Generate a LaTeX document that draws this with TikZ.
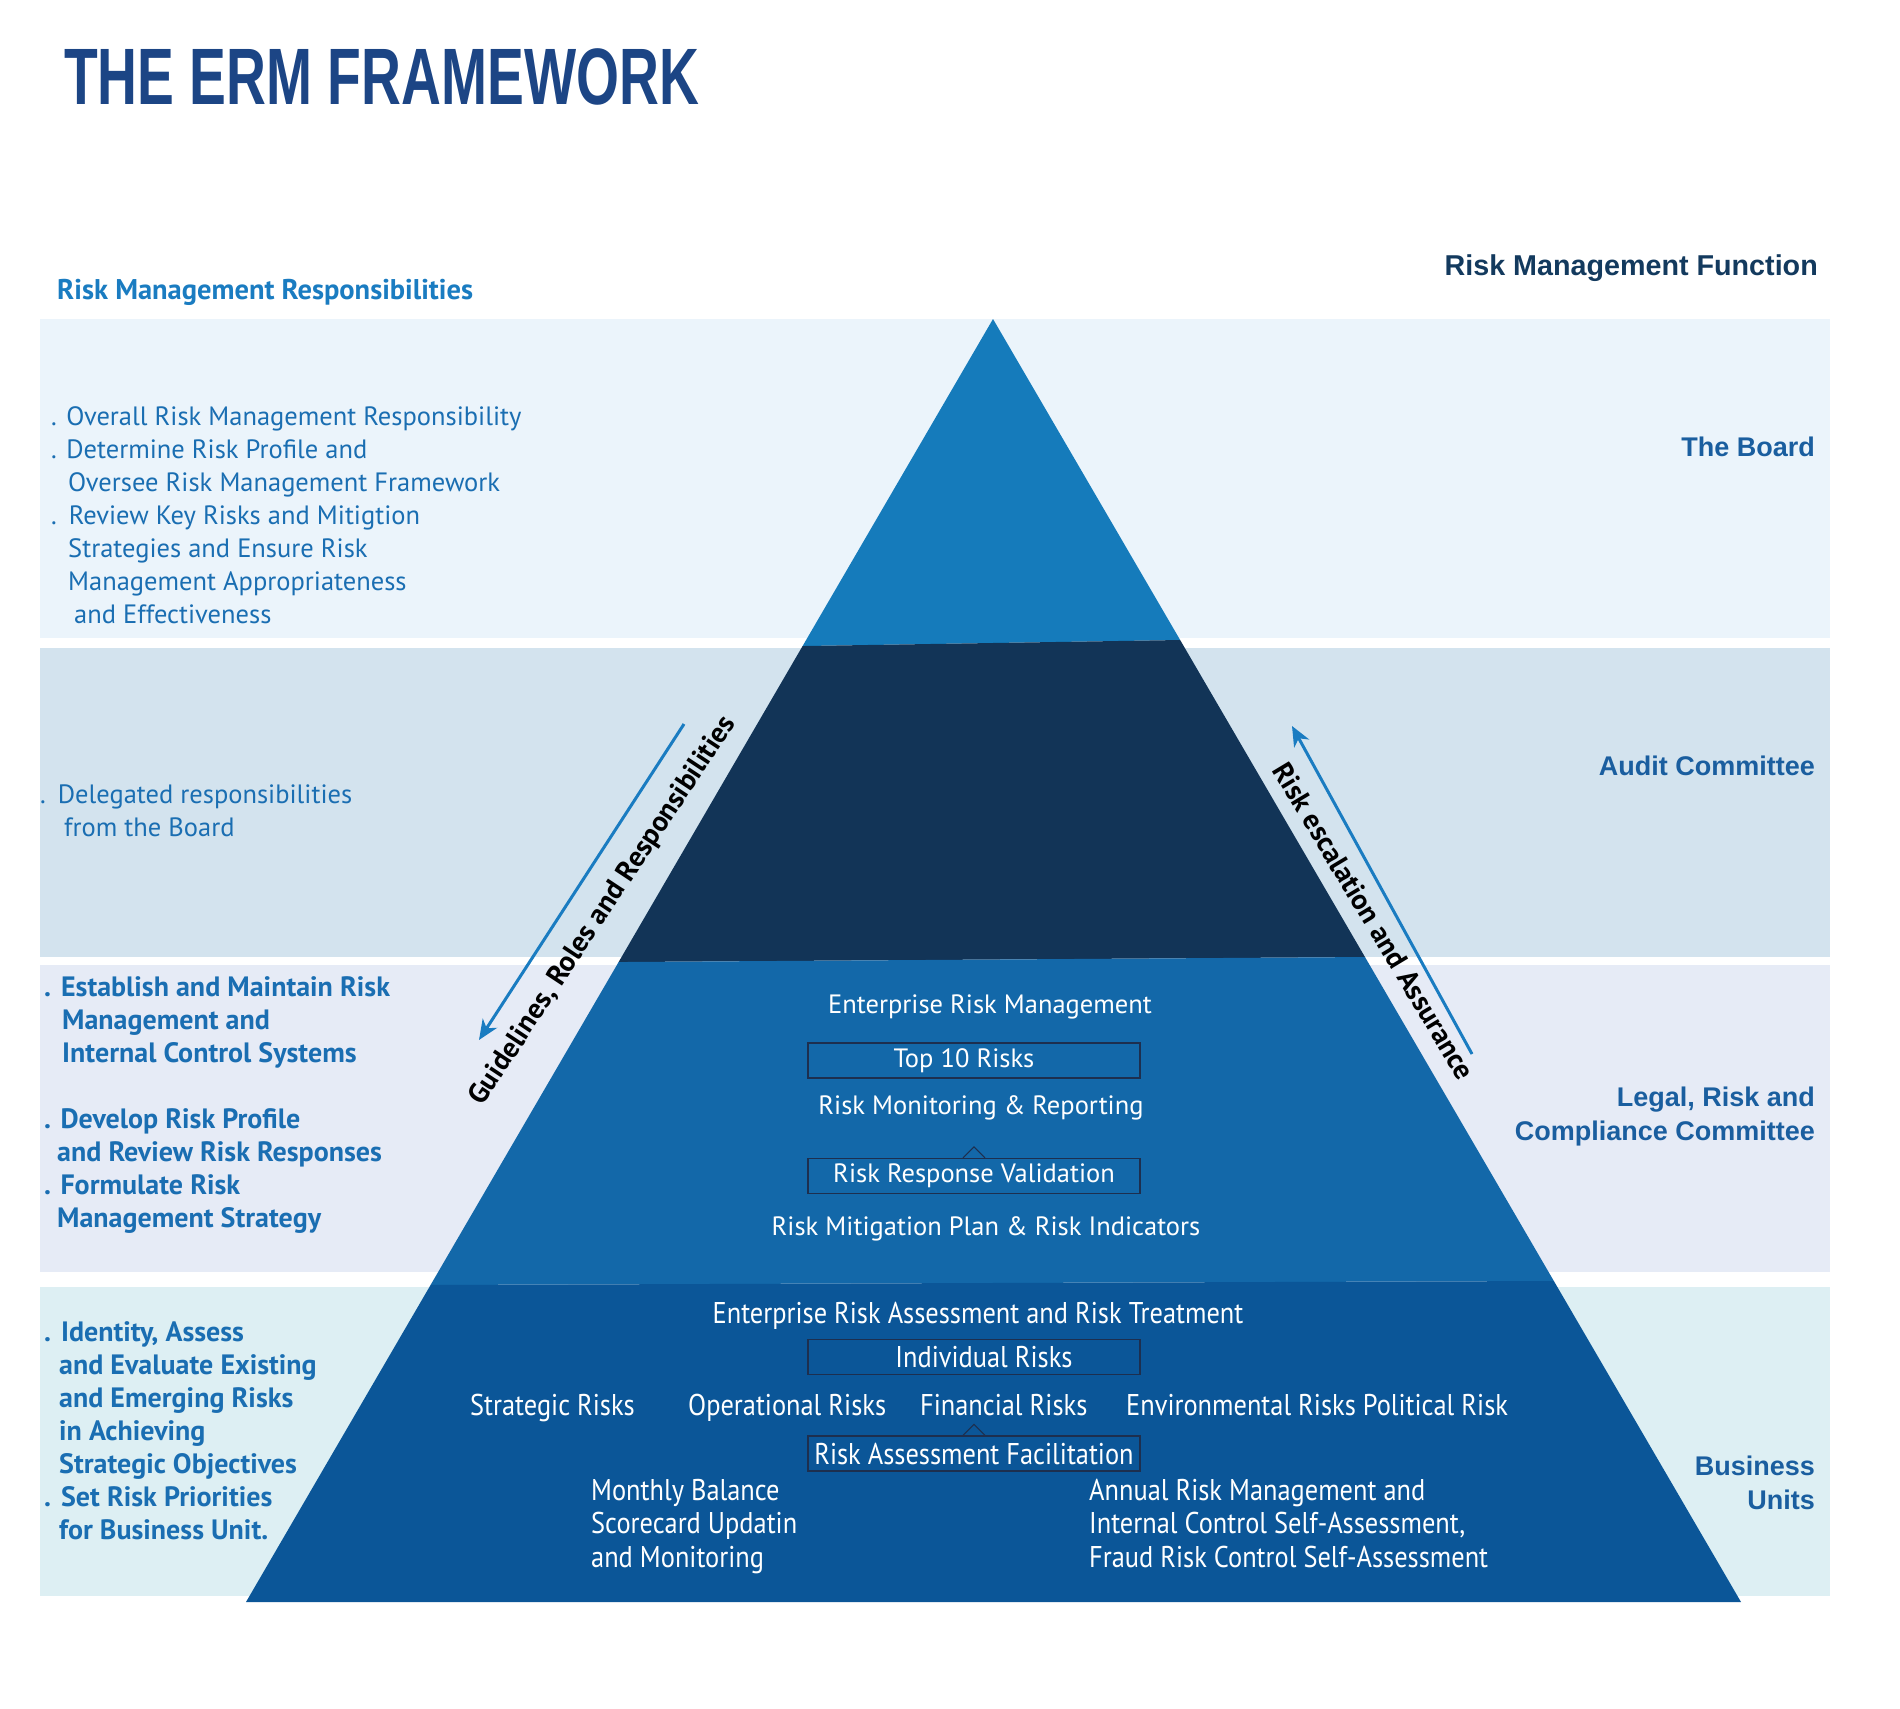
\documentclass[tikz,border=0pt]{standalone}
\usepackage{fontspec}
\setmainfont{PT Sans}
\newfontfamily\arialfont{Liberation Sans}
\newfontfamily\titlefont[FakeStretch=0.69]{Liberation Sans}
\newfontfamily\narrowfont[FakeStretch=0.88]{PT Sans}
\usetikzlibrary{calc,arrows.meta,positioning}

\definecolor{titleblue}{HTML}{1C4585}
\definecolor{headblue}{HTML}{1A7CC1}
\definecolor{funcnavy}{HTML}{133A5E}
\definecolor{textblue}{HTML}{1A6EB2}
\definecolor{labelblue}{HTML}{1A5E9F}
\definecolor{bandone}{HTML}{EBF4FB}
\definecolor{bandtwo}{HTML}{D3E3EE}
\definecolor{bandthree}{HTML}{E6EBF6}
\definecolor{bandfour}{HTML}{DDEFF3}
\definecolor{layerone}{HTML}{157BBB}
\definecolor{layertwo}{HTML}{123457}
\definecolor{layerthree}{HTML}{1368A9}
\definecolor{layerfour}{HTML}{0B5698}
\definecolor{boxline}{HTML}{1D2F4F}

\begin{document}
\begin{tikzpicture}[x=1pt,y=-1pt,
    resp/.style={anchor=base west,align=left,text=textblue,inner sep=0pt,font=\fontsize{26.5}{33}\selectfont},
    respbold/.style={resp,font=\fontsize{28}{33}\selectfont\bfseries},
    func/.style={anchor=east,align=right,text=labelblue,inner sep=0pt,font=\arialfont\bfseries\fontsize{27}{34}\selectfont},
    inner/.style={text=white,inner sep=0pt,font=\fontsize{26.5}{33}\selectfont},
    innernarrow/.style={text=white,inner sep=0pt,font=\narrowfont\fontsize{30}{33.5}\selectfont},
    riskbox/.style={draw=boxline,line width=1.2pt,minimum width=332pt,minimum height=35pt},
    caret/.style={boxline,line width=1pt},
    flow/.style={headblue,line width=3pt,-{Stealth[length=20pt,width=17pt,inset=6pt]}},
    flowtext/.style={inner sep=0pt,font=\fontsize{28.5}{30}\selectfont\bfseries}]
        % Page and bands
        \fill[white] (0,0) rectangle (1900,1708);
        \useasboundingbox (0,0) rectangle (1900,1708);
        \fill[bandone] (40,319) rectangle (1830,638);
        \fill[bandtwo] (40,648) rectangle (1830,957);
        \fill[bandthree] (40,965) rectangle (1830,1272);
        \fill[bandfour] (40,1287) rectangle (1830,1596);
        % Headings
        \node[anchor=west,inner sep=0pt,text=titleblue,font=\titlefont\bfseries\fontsize{80}{80}\selectfont] (title) at (64,77) {THE ERM FRAMEWORK};
        \node[anchor=base east,inner sep=0pt,text=funcnavy,font=\arialfont\bfseries\fontsize{28.7}{30}\selectfont] (function) at (1818,275) {Risk Management Function};
        \node[anchor=base west,inner sep=0pt,text=headblue,font=\fontsize{28.5}{30}\selectfont\bfseries] (duties) at (57,299.5) {Risk Management Responsibilities};
        % Pyramid layers
        \coordinate (apex) at (993,319);
        \coordinate (baseL) at (246,1602);
        \coordinate (baseR) at (1741,1602);
        \coordinate (l1) at ($(apex)!0.2549!(baseL)$);
        \coordinate (r1) at ($(apex)!0.2502!(baseR)$);
        \coordinate (l2) at ($(apex)!0.5012!(baseL)$);
        \coordinate (r2) at ($(apex)!0.4973!(baseR)$);
        \coordinate (l3) at ($(apex)!0.7529!(baseL)$);
        \coordinate (r3) at ($(apex)!0.7498!(baseR)$);
        \fill[layerone] (apex) -- (r1) -- (l1) -- cycle;
        \fill[layertwo] (l1) -- (r1) -- (r2) -- (l2) -- cycle;
        \fill[layerthree] (l2) -- (r2) -- (r3) -- (l3) -- cycle;
        \fill[layerfour] (l3) -- (r3) -- (baseR) -- (baseL) -- cycle;
        % Responsibilities on the left (anchored on the last line)
        \node[resp] (boardduty) at (51,623.5) {. Overall Risk Management Responsibility\\
            . Determine Risk Profile and\\
            \hspace*{17pt}Oversee Risk Management Framework\\
            .\hspace*{12pt}Review Key Risks and Mitigtion\\
            \hspace*{17pt}Strategies and Ensure Risk\\
            \hspace*{17pt}Management Appropriateness\\
            \hspace*{23pt}and Effectiveness};
        \node[resp] (auditduty) at (40,836.5) {.\hspace*{12pt}Delegated responsibilities\\
            \hspace*{24pt}from the Board};
        \node[respbold] (legalduty) at (44,1227.5) {.\hspace*{10pt}Establish and Maintain Risk\\
            \hspace*{18pt}Management and\\
            \hspace*{18pt}Internal Control Systems\\[33pt]
            . Develop Risk Profile\\
            \hspace*{13pt}and Review Risk Responses\\
            . Formulate Risk\\
            \hspace*{13pt}Management Strategy};
        \node[respbold] (unitduty) at (44,1539.5) {.\hspace*{10pt}Identity, Assess\\
            \hspace*{15pt}and Evaluate Existing\\
            \hspace*{15pt}and Emerging Risks\\
            \hspace*{15pt}in Achieving\\
            \hspace*{15pt}Strategic Objectives\\
            .\hspace*{10pt}Set Risk Priorities\\
            \hspace*{15pt}for Business Unit.};
        % Risk management function on the right
        \node[func] (board) at (1815,447) {The Board};
        \node[func] (audit) at (1815,766) {Audit Committee};
        \node[func] (legal) at (1815,1117) {Legal, Risk and\\Compliance Committee};
        \node[func] (units) at (1815,1482.5) {Business\\Units};
        % Flows along the pyramid
        \coordinate (gstart) at (684,724);
        \coordinate (gend) at (479,1040);
        \draw[flow] (gstart) -- (gend);
        \node[flowtext,rotate=56.5] (guide) at (603,911) {Guidelines, Roles and Responsibilities};
        \coordinate (estart) at (1472,1054);
        \coordinate (eend) at (1292,726);
        \draw[flow] (estart) -- (eend);
        \node[flowtext,rotate=-59] (escalate) at (1374,921) {Risk escalation and Assurance};
        % Enterprise risk management layer
        \node[inner] (erm) at (990,1007) {Enterprise Risk Management};
        \node[riskbox,inner] (top10) at (974,1060.5) {Top 10 Risks\hspace*{20pt}};
        \node[inner] (monitor) at (981,1108) {Risk Monitoring \& Reporting};
        \node[riskbox,inner] (validation) at (974,1176) {Risk Response Validation};
        \draw[caret] ([xshift=-11pt]validation.north) -- ++(11,-11) -- ++(11,11);
        \node[inner] (mitigation) at (986,1229) {Risk Mitigation Plan \& Risk Indicators};
        % Risk assessment layer
        \node[innernarrow] (assess) at (978,1316) {Enterprise Risk Assessment and Risk Treatment};
        \node[riskbox,innernarrow] (individual) at (974,1357) {\hspace*{20pt}Individual Risks};
        \node[innernarrow,anchor=base west] (strategic) at (470,1415) {Strategic Risks};
        \node[innernarrow,anchor=base west] (operational) at (688,1415) {Operational Risks};
        \node[innernarrow,anchor=base west] (financial) at (920,1415) {Financial Risks};
        \node[innernarrow,anchor=base west] (environ) at (1126,1415) {Environmental Risks Political Risk};
        \node[riskbox,innernarrow] (facilitation) at (974,1453.5) {Risk Assessment Facilitation};
        \draw[caret] ([xshift=-11pt]facilitation.north) -- ++(11,-11) -- ++(11,11);
        \node[innernarrow,anchor=base west,align=left] (monthly) at (591,1567) {Monthly Balance\\Scorecard Updatin\\and Monitoring};
        \node[innernarrow,anchor=base west,align=left] (annual) at (1089,1567) {Annual Risk Management and\\Internal Control Self-Assessment,\\Fraud Risk Control Self-Assessment};
    \end{tikzpicture}
\end{document}
